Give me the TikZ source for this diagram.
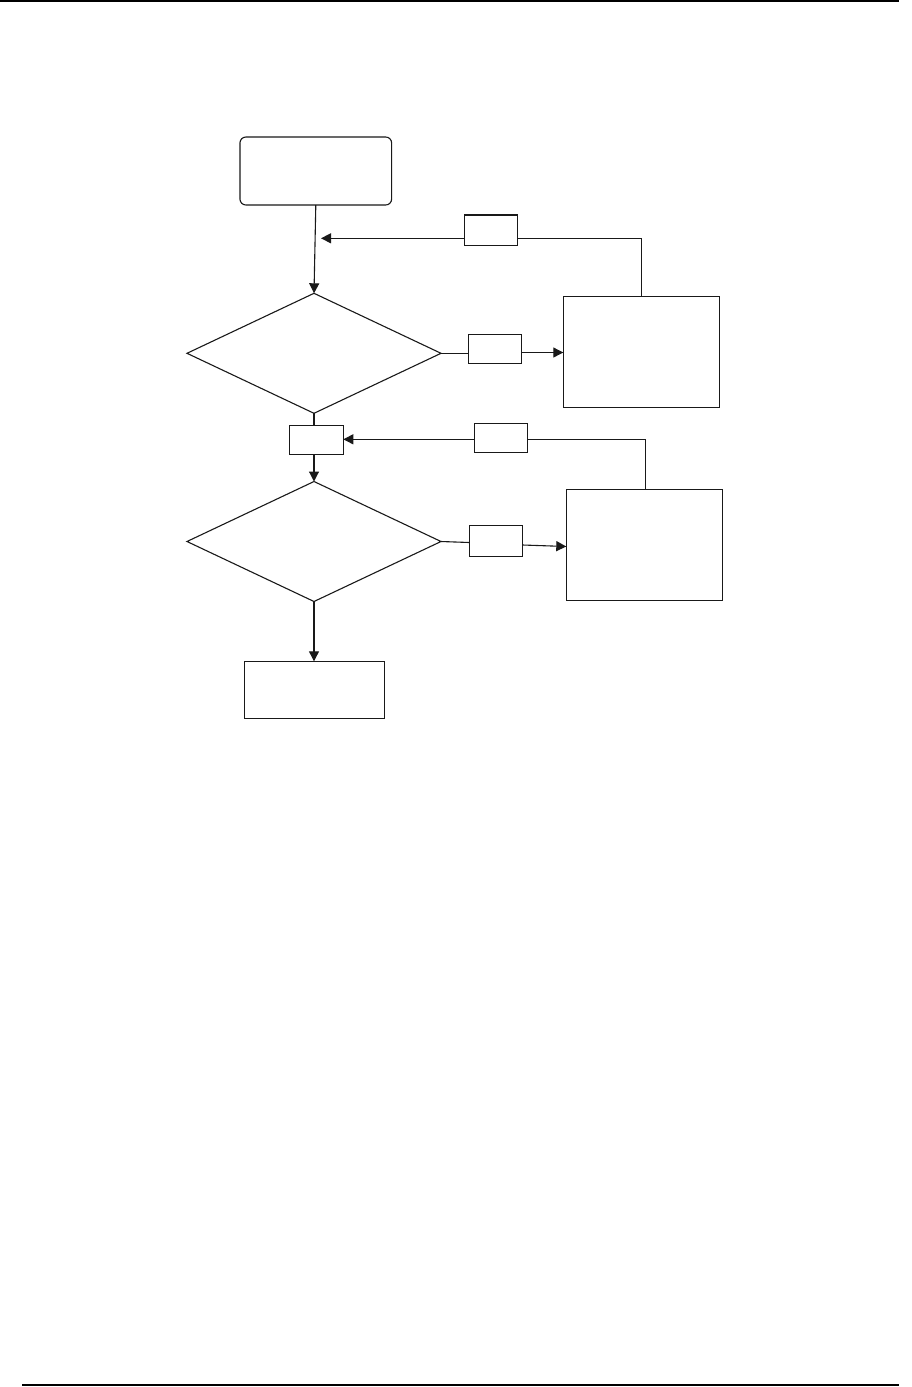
\documentclass[tikz,border=0pt]{standalone}
\usetikzlibrary{arrows.meta,shapes.geometric}
\begin{document}
\begin{tikzpicture}[x=1pt,y=-1pt,line width=1.1pt,
  box/.style={draw=black!90,rectangle,inner sep=0pt,outer sep=0pt},
  dia/.style={draw=black!90,diamond,inner sep=0pt,outer sep=0pt,minimum width=254pt,minimum height=120pt},
  conn/.style={draw=black!90},
  arr/.style={conn,-{Triangle[length=10pt,width=10pt]}}]
\useasboundingbox (0,0) rectangle (912,1387);
\draw[line width=1.5pt] (0,1) -- (899,1);
\draw[line width=1.5pt] (22,1385) -- (899,1385);
\node[box,rounded corners=6pt,minimum width=151.7pt,minimum height=68pt] (start) at (315.8,171) {};
\node[dia] (d1) at (314,353.3) {};
\node[dia] (d2) at (314,541.5) {};
\node[box,minimum width=156pt,minimum height=111.3pt] (rb1) at (641.3,351.7) {};
\node[box,minimum width=156.4pt,minimum height=111.4pt] (rb2) at (644.5,545) {};
\node[box,minimum width=53.7pt,minimum height=30.7pt] (la) at (491,230.3) {};
\node[box,minimum width=53.4pt,minimum height=29pt] (lb) at (495,348.8) {};
\node[box,minimum width=54pt,minimum height=29pt] (lc) at (316.3,439.8) {};
\node[box,minimum width=53.4pt,minimum height=29.4pt] (ld) at (501,438) {};
\node[box,minimum width=53.4pt,minimum height=31.4pt] (le) at (496,541) {};
\node[box,minimum width=140.3pt,minimum height=57pt] (fin) at (314.2,689.8) {};
\coordinate (r1) at (321,238.3);
\coordinate (r2) at (641.8,238.3);
\coordinate (r3) at (645.7,439.3);
% main flow
\draw[arr] (start.south) -- (d1.north);
\draw[conn] (d1.south) -- (lc.north -| d1.south);
\draw[arr] (lc.south -| d1.south) -- (d2.north);
\draw[arr] (d2.south) -- (fin.north -| d2.south);
% yes branches
\draw[conn] (d1.east) -- (lb.west |- d1.east);
\draw[arr] (lb.east |- 0,352.5) -- (rb1.west |- 0,352.5);
\draw[conn] (d2.east) -- (le.west |- 0,542.5);
\draw[arr] (le.east |- 0,545) -- (rb2.west |- 0,546.5);
% return loops
\draw[conn] (rb1.north -| r2) -- (r2) -- (la.east |- r2);
\draw[arr] (la.west |- r1) -- (r1);
\draw[conn] (rb2.north -| r3) -- (r3) -- (ld.east |- r3);
\draw[arr] (ld.west |- r3) -- (lc.east |- r3);
\end{tikzpicture}
\end{document}
